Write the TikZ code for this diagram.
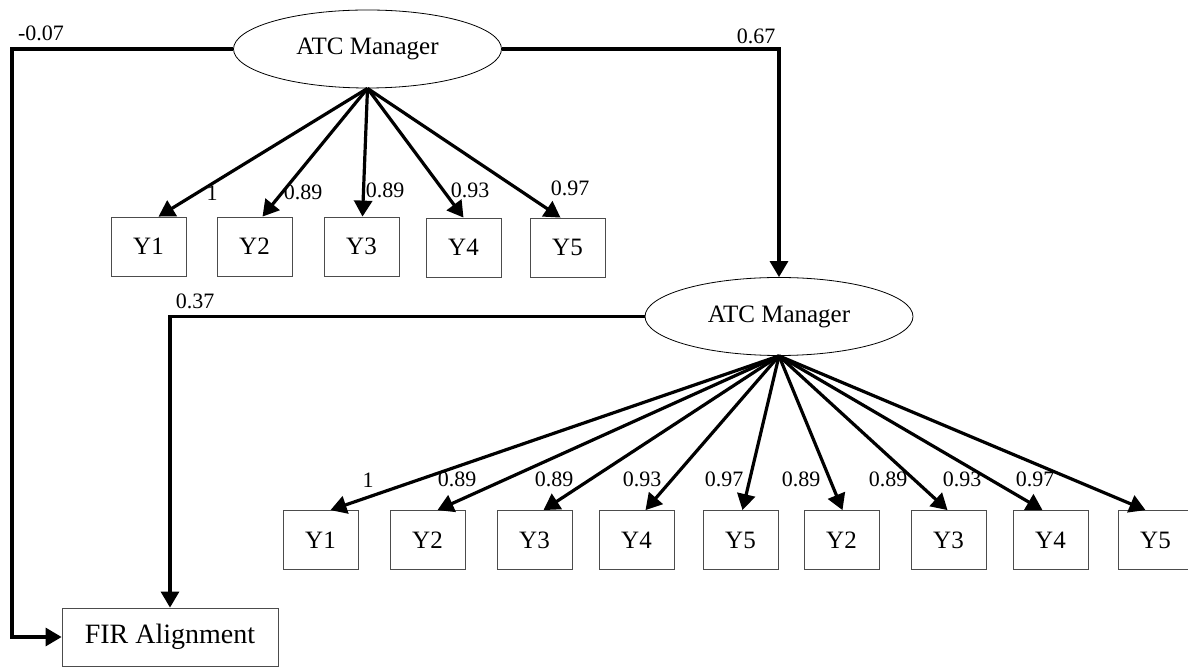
\documentclass[tikz,border=0pt]{standalone}
\usepackage{fontspec}
\setmainfont{Liberation Serif}
\usepackage{tikz}
\usetikzlibrary{shapes.geometric, arrows.meta}
\tikzstyle{latent} = [ellipse, draw=black, thin, minimum width=134pt, minimum height=39pt, inner sep=0pt, font=\fontsize{12.5}{14}\selectfont]
\tikzstyle{item} = [rectangle, draw=black!70, thin, minimum width=37.5pt, minimum height=29.5pt, inner sep=0pt, font=\fontsize{12.5}{14}\selectfont]
\tikzstyle{outcome} = [rectangle, draw=black!70, thin, minimum width=108pt, minimum height=29pt, inner sep=0pt, font=\fontsize{14}{16}\selectfont]
\tikzstyle{coef} = [inner sep=0pt, font=\fontsize{11}{12}\selectfont]
\tikzstyle{arrow} = [line width=1.6pt, -{Triangle[length=8pt,width=9pt]}]

\begin{document}
\begin{tikzpicture}[x=0.5pt, y=-0.5pt]
        \useasboundingbox (0,0) rectangle (1188,667);
        % latent variables and outcome
        \node[latent] (atcA) at (367.5,49) {ATC Manager};
        \node[latent] (atcB) at (779,316.5) {ATC Manager};
        \node[outcome] (fir) at (170,637) {FIR Alignment};
        % first block of indicators
        \node[item] (y1a) at (148.5,246.5) {Y1};
        \node[item] (y2a) at (254.5,246.5) {Y2};
        \node[item] (y3a) at (361.5,246.5) {Y3};
        \node[item] (y4a) at (463.5,247.5) {Y4};
        \node[item] (y5a) at (567.5,247.5) {Y5};
        % second block of indicators
        \node[item] (y1b) at (320.5,540) {Y1};
        \node[item] (y2b) at (427.5,540) {Y2};
        \node[item] (y3b) at (534.5,540) {Y3};
        \node[item] (y4b) at (636.5,540) {Y4};
        \node[item] (y5b) at (740.5,540) {Y5};
        \node[item] (y6b) at (841.5,540) {Y2};
        \node[item] (y7b) at (948.5,540) {Y3};
        \node[item] (y8b) at (1050.5,540) {Y4};
        \node[item] (y9b) at (1155.5,540) {Y5};
        % structural paths
        \coordinate (cornerL) at (12,49);
        \draw[arrow] (atcA.west) -- (cornerL) |- (fir.west);
        \draw[arrow] (atcA.east) -| (atcB.north);
        \draw[arrow] (atcB.west) -| (fir.north);
        \node[coef] (pathA) at (41,33) {-0.07};
        \node[coef] (pathB) at (756,36) {0.67};
        \node[coef] (pathC) at (195,301) {0.37};
        % loadings, first block
        \draw[arrow] (atcA.south) -- ([xshift=5pt]y1a.north);
        \draw[arrow] (atcA.south) -- ([xshift=4pt]y2a.north);
        \draw[arrow] (atcA.south) -- ([xshift=0.5pt]y3a.north);
        \draw[arrow] (atcA.south) -- (y4a.north);
        \draw[arrow] (atcA.south) -- ([xshift=-3.5pt]y5a.north);
        \node[coef] (la1) at (212,193) {1};
        \node[coef] (la2) at (303,192) {0.89};
        \node[coef] (la3) at (385,190) {0.89};
        \node[coef] (la4) at (470,190) {0.93};
        \node[coef] (la5) at (570,188) {0.97};
        % loadings, second block
        \draw[arrow] (atcB.south) -- ([xshift=5pt]y1b.north);
        \draw[arrow] (atcB.south) -- ([xshift=5pt]y2b.north);
        \draw[arrow] (atcB.south) -- ([xshift=4.5pt]y3b.north);
        \draw[arrow] (atcB.south) -- ([xshift=4.5pt]y4b.north);
        \draw[arrow] (atcB.south) -- ([xshift=1pt]y5b.north);
        \draw[arrow] (atcB.south) -- ([xshift=0.5pt]y6b.north);
        \draw[arrow] (atcB.south) -- ([xshift=-0.5pt]y7b.north);
        \draw[arrow] (atcB.south) -- ([xshift=-4pt]y8b.north);
        \draw[arrow] (atcB.south) -- ([xshift=-5pt]y9b.north);
        \node[coef] (lb1) at (368,480) {1};
        \node[coef] (lb2) at (457,479) {0.89};
        \node[coef] (lb3) at (554,479) {0.89};
        \node[coef] (lb4) at (642,479) {0.93};
        \node[coef] (lb5) at (724,479) {0.97};
        \node[coef] (lb6) at (801,479) {0.89};
        \node[coef] (lb7) at (888,479) {0.89};
        \node[coef] (lb8) at (962,479) {0.93};
        \node[coef] (lb9) at (1035,479) {0.97};
    \end{tikzpicture}
\end{document}
